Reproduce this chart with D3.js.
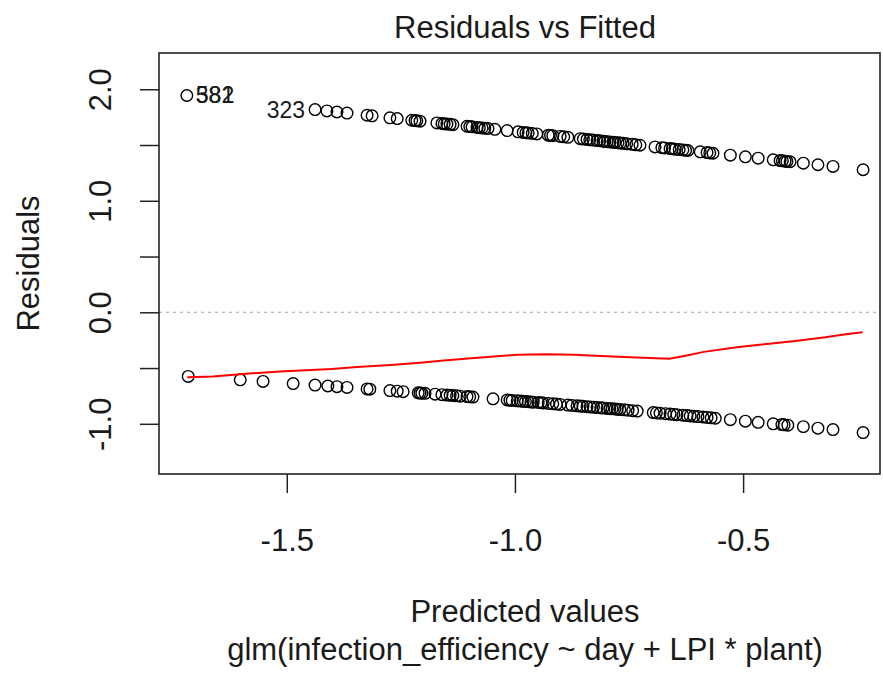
<!DOCTYPE html>
<html lang="en">
  <head>
    <meta charset="utf-8">
    <title>Residuals vs Fitted</title>
    <script src="https://cdnjs.cloudflare.com/ajax/libs/d3/7.8.0/d3.min.js"></script>
    <style>
      body { margin: 0; background: #fff; }
      svg text { font-family: "Liberation Sans", Arial, sans-serif; fill: #1a1a1a; }
      .tick line { stroke: #222; stroke-width: 1.5; }
    </style>
  </head>
  <body>
    <div id="chartContainer"></div>

    <script type="text/javascript">
      // residuals with y = 1 (upper band)
      var upperFitted = [-1.719, -1.438, -1.412, -1.390, -1.368, -1.324, -1.313, -1.274, -1.258, -1.226,
        -1.219, -1.208, -1.171, -1.160, -1.149, -1.136, -1.105, -1.094, -1.083, -1.072,
        -1.059, -1.044, -1.017, -0.993, -0.982, -0.971, -0.952, -0.927, -0.917, -0.901,
        -0.884, -0.857, -0.842, -0.829, -0.814, -0.807, -0.798, -0.792, -0.785, -0.781,
        -0.774, -0.763, -0.743, -0.726, -0.693, -0.678, -0.660, -0.649, -0.632, -0.621,
        -0.594, -0.579, -0.566, -0.528, -0.495, -0.467, -0.434, -0.419, -0.408, -0.397,
        -0.368, -0.336, -0.303, -0.237,
        -1.215, -1.155, -1.142, -1.099, -1.078, -1.066, -0.976, -0.962, -0.922, -0.893,
        -0.850, -0.836, -0.820, -0.803, -0.769, -0.755, -0.735, -0.672, -0.655, -0.640,
        -0.626, -0.573, -0.414, -0.404];
      var upperResid = [1.944, 1.818, 1.806, 1.796, 1.786, 1.767, 1.762, 1.744, 1.737, 1.722,
        1.719, 1.714, 1.698, 1.693, 1.688, 1.682, 1.668, 1.663, 1.658, 1.653,
        1.648, 1.641, 1.629, 1.618, 1.613, 1.608, 1.599, 1.588, 1.584, 1.577,
        1.569, 1.557, 1.550, 1.544, 1.538, 1.534, 1.530, 1.528, 1.525, 1.523,
        1.520, 1.515, 1.506, 1.498, 1.483, 1.476, 1.468, 1.463, 1.456, 1.451,
        1.439, 1.432, 1.426, 1.409, 1.394, 1.382, 1.367, 1.360, 1.355, 1.350,
        1.337, 1.323, 1.308, 1.278,
        1.717, 1.690, 1.685, 1.665, 1.655, 1.650, 1.610, 1.604, 1.586, 1.573,
        1.553, 1.547, 1.540, 1.532, 1.517, 1.511, 1.502, 1.474, 1.466, 1.459,
        1.453, 1.429, 1.358, 1.353];

      // residuals with y = 0 (lower band)
      var lowerFitted = [-1.716, -1.602, -1.552, -1.486, -1.438, -1.410, -1.390, -1.368, -1.324, -1.318,
        -1.274, -1.258, -1.245, -1.212, -1.204, -1.197, -1.175, -1.160, -1.149, -1.136,
        -1.120, -1.105, -1.092, -1.048, -1.017, -1.006, -0.995, -0.982, -0.971, -0.960,
        -0.949, -0.938, -0.917, -0.901, -0.884, -0.864, -0.851, -0.835, -0.820, -0.807,
        -0.792, -0.787, -0.776, -0.770, -0.752, -0.732, -0.697, -0.682, -0.660, -0.645,
        -0.632, -0.616, -0.599, -0.579, -0.561, -0.528, -0.495, -0.467, -0.434, -0.415,
        -0.402, -0.368, -0.336, -0.303, -0.237,
        -1.208, -1.142, -1.128, -1.099, -1.011, -0.988, -0.977, -0.965, -0.943, -0.927,
        -0.909, -0.875, -0.857, -0.842, -0.828, -0.812, -0.798, -0.781, -0.760, -0.742,
        -0.690, -0.670, -0.652, -0.623, -0.608, -0.588, -0.570, -0.410];
      var lowerResid = [-0.575, -0.606, -0.620, -0.639, -0.653, -0.661, -0.667, -0.674, -0.687, -0.689,
        -0.702, -0.707, -0.712, -0.722, -0.725, -0.727, -0.734, -0.739, -0.742, -0.746,
        -0.752, -0.756, -0.760, -0.776, -0.786, -0.790, -0.794, -0.798, -0.802, -0.806,
        -0.809, -0.813, -0.820, -0.826, -0.832, -0.839, -0.843, -0.849, -0.854, -0.859,
        -0.864, -0.865, -0.869, -0.872, -0.878, -0.886, -0.899, -0.905, -0.913, -0.918,
        -0.923, -0.929, -0.935, -0.943, -0.950, -0.963, -0.976, -0.987, -1.000, -1.007,
        -1.012, -1.026, -1.039, -1.052, -1.079,
        -0.724, -0.744, -0.749, -0.758, -0.788, -0.796, -0.800, -0.804, -0.811, -0.817,
        -0.823, -0.835, -0.841, -0.846, -0.851, -0.857, -0.862, -0.867, -0.875, -0.882,
        -0.902, -0.909, -0.916, -0.926, -0.932, -0.939, -0.946, -1.009];

      // lowess smoother
      var smoothFitted = [-1.718, -1.662, -1.575, -1.514, -1.402, -1.346, -1.264, -1.208, -1.162, -1.096,
        -1.060, -0.994, -0.930, -0.871, -0.774, -0.662, -0.626, -0.586, -0.514, -0.453,
        -0.381, -0.320, -0.279, -0.238];
      var smoothResid = [-0.583, -0.576, -0.547, -0.530, -0.508, -0.491, -0.470, -0.452, -0.434, -0.413,
        -0.401, -0.380, -0.377, -0.380, -0.398, -0.416, -0.390, -0.355, -0.314, -0.287,
        -0.255, -0.224, -0.199, -0.179];

      // labelled observations
      var idLabels = ["582", "381", "323"];
      var idFitted = [-1.719, -1.719, -1.438];
      var idResid = [1.944, 1.944, 1.818];
      var idSide = ["right", "right", "left"];

      var xTicks = [-1.5, -1.0, -0.5];
      var yTicks = [-1.0, -0.5, 0.0, 0.5, 1.0, 1.5, 2.0];
      var yTickLabels = { "-1": "-1.0", "0": "0.0", "1": "1.0", "2": "2.0" };

      var W = 883, H = 673;
      var plotL = 159, plotR = 880, plotT = 53, plotB = 474;

      var svg = d3.select("#chartContainer")
                  .append("svg")
                  .attr("width", W)
                  .attr("height", H);

      var x = d3.scaleLinear().domain([-1.78, -0.2]).range([plotL, plotR]);
      var y = d3.scaleLinear().domain([-1.45, 2.325]).range([plotB, plotT]);

      // zero reference line
      svg.append("line")
         .attr("x1", plotL).attr("x2", plotR)
         .attr("y1", y(0)).attr("y2", y(0))
         .attr("stroke", "#b4b4b4")
         .attr("stroke-width", 1.3)
         .attr("stroke-dasharray", "3,4");

      // points
      var pts = svg.append("g");
      pts.selectAll(".up")
         .data(upperFitted)
         .enter().append("circle")
         .attr("cx", function(d) { return x(d); })
         .attr("cy", function(d, i) { return y(upperResid[i]); })
         .attr("r", 5.8)
         .attr("fill", "none")
         .attr("stroke", "#000")
         .attr("stroke-width", 1.4);
      pts.selectAll(".lo")
         .data(lowerFitted)
         .enter().append("circle")
         .attr("cx", function(d) { return x(d); })
         .attr("cy", function(d, i) { return y(lowerResid[i]); })
         .attr("r", 5.8)
         .attr("fill", "none")
         .attr("stroke", "#000")
         .attr("stroke-width", 1.4);

      // smoother
      var line = d3.line()
                   .x(function(d) { return x(d); })
                   .y(function(d, i) { return y(smoothResid[i]); });
      svg.append("path")
         .datum(smoothFitted)
         .attr("d", line)
         .attr("fill", "none")
         .attr("stroke", "#ff0000")
         .attr("stroke-width", 2);

      // id labels
      svg.selectAll(".idlab")
         .data(idLabels)
         .enter().append("text")
         .attr("x", function(d, i) { return idSide[i] === "right" ? x(idFitted[i]) + 9 : x(idFitted[i]) - 10; })
         .attr("y", function(d, i) { return y(idResid[i]) + 8; })
         .attr("text-anchor", function(d, i) { return idSide[i] === "right" ? "start" : "end"; })
         .style("font-size", "23px")
         .text(function(d) { return d; });

      // axes
      var xAxis = svg.append("g")
         .attr("transform", "translate(0," + plotB + ")")
         .call(d3.axisBottom(x).tickValues(xTicks).tickSize(19)
                 .tickFormat(function(d) { return d.toFixed(1); }));
      xAxis.select(".domain").remove();
      xAxis.selectAll("text")
           .attr("y", 77).attr("dy", null)
           .style("font-size", "31px");

      var yAxis = svg.append("g")
         .attr("transform", "translate(" + plotL + ",0)")
         .call(d3.axisLeft(y).tickValues(yTicks).tickSize(19)
                 .tickFormat(function(d) { return yTickLabels[String(d)] || ""; }));
      yAxis.select(".domain").remove();
      yAxis.selectAll("text")
           .attr("x", null).attr("dy", null)
           .attr("text-anchor", "middle")
           .attr("transform", "translate(-48,0) rotate(-90)")
           .style("font-size", "31px");

      // box
      svg.append("rect")
         .attr("x", plotL).attr("y", plotT)
         .attr("width", plotR - plotL).attr("height", plotB - plotT)
         .attr("fill", "none")
         .attr("stroke", "#222")
         .attr("stroke-width", 1.6);

      // titles
      var cx = 525;
      svg.append("text").attr("x", cx).attr("y", 38).attr("text-anchor", "middle")
         .style("font-size", "31px").text("Residuals vs Fitted");
      svg.append("text").attr("x", cx).attr("y", 622).attr("text-anchor", "middle")
         .style("font-size", "31px").text("Predicted values");
      svg.append("text").attr("x", cx).attr("y", 660).attr("text-anchor", "middle")
         .style("font-size", "31px").text("glm(infection_efficiency ~ day + LPI * plant)");
      svg.append("text")
         .attr("transform", "translate(39," + ((plotT + plotB) / 2) + ") rotate(-90)")
         .attr("text-anchor", "middle")
         .style("font-size", "31px").text("Residuals");
    </script>
  </body>
</html>
